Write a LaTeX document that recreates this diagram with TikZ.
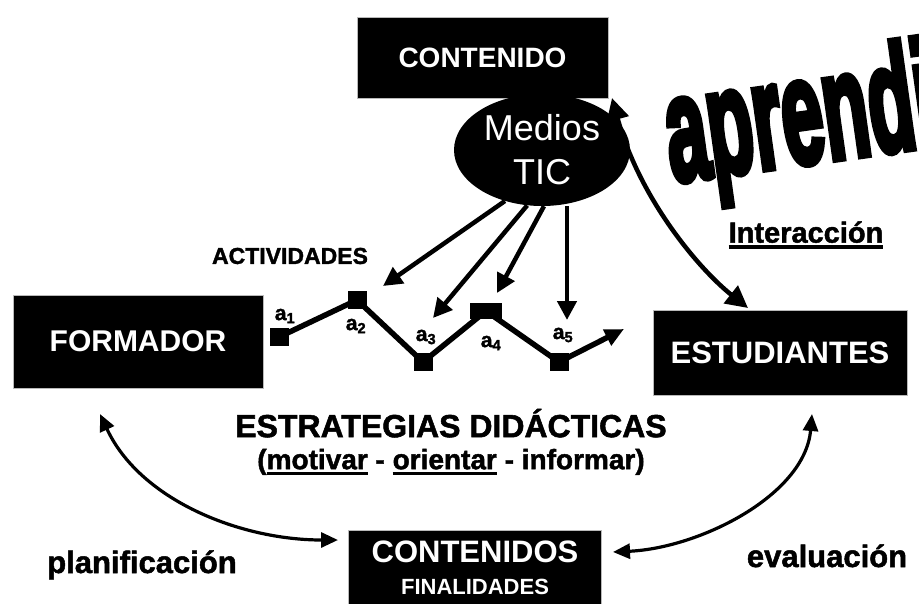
\documentclass[tikz,border=0pt]{standalone}
\usepackage{fontspec}
\setmainfont{Liberation Sans}
\newfontfamily\heavyfont{Liberation Sans Bold}[FakeBold=1.6]
\newfontfamily\wordartfont{Liberation Sans Bold}[FakeBold=5]
\usetikzlibrary{arrows.meta,shapes.geometric}
\newcommand{\thickul}[1]{\setbox0\hbox{#1}\makebox[0pt][l]{\rule[-6pt]{\wd0}{3.5pt}}\box0\relax}
\tikzset{
  darkbox/.style={fill=black, draw=gray!55, line width=0.8pt, text=white,
    font=\bfseries\fontsize{30}{32}\selectfont, inner sep=0pt},
  bigtext/.style={font=\heavyfont\fontsize{32}{36}\selectfont, inner sep=0pt},
  medarrow/.style={line width=4.5pt, -{Triangle[width=19pt,length=19pt]}},
  dblarrow/.style={line width=3.2pt, {Triangle[width=15pt,length=17pt]}-{Triangle[width=15pt,length=17pt]}},
  zig/.style={line width=5.5pt, line join=round},
  actbox/.style={fill=black, minimum width=19pt, minimum height=18pt, inner sep=0pt},
  alabel/.style={font=\heavyfont\fontsize{21}{21}\selectfont, inner sep=0pt}
}
\begin{document}
\begin{tikzpicture}[x=1pt, y=-1pt]
\fill[white] (0,0) rectangle (919,603);
\useasboundingbox (0,0) rectangle (919,603);

% wordart
\node[anchor=base west, rotate=8, xscale=0.5, inner sep=0pt,
      font=\wordartfont\fontsize{150}{150}\selectfont] (apr) at (672,182) {aprendizaje};

% boxes
\node[darkbox, font=\bfseries\fontsize{28}{30}\selectfont, minimum width=251pt, minimum height=81pt] (cont) at (482.5,57.5) {CONTENIDO};
\node[darkbox, minimum width=250pt, minimum height=93pt] (form) at (138,341.5) {FORMADOR};
\node[darkbox, font=\bfseries\fontsize{31}{33}\selectfont, minimum width=254pt, minimum height=85pt] (est) at (780,352.5) {ESTUDIANTES};
\node[darkbox, font=\bfseries\fontsize{31}{33}\selectfont, minimum width=253pt, minimum height=76pt, align=center] (conts) at (475,568)
  {CONTENIDOS\\[-1pt]{\fontsize{22}{24}\selectfont FINALIDADES}};

% Medios TIC
\node[ellipse, fill=black, minimum width=176pt, minimum height=112pt, inner sep=0pt,
      text=white, align=center, font=\fontsize{36}{44}\selectfont] (tic) at (542,150) {Medios\\TIC};

% Interaction arrow between CONTENIDO and ESTUDIANTES
\coordinate (iTop) at (612,98);
\coordinate (iBot) at (748,308);
\draw[line width=4.5pt, {Triangle[width=22pt,length=22pt]}-{Triangle[width=22pt,length=22pt]}]
  (iTop) .. controls (640,200) and (700,270) .. (iBot);

% activities
\node[bigtext, font=\heavyfont\fontsize{23}{23}\selectfont] (actlbl) at (290,256) {ACTIVIDADES};
\node[actbox] (a1) at (279,337) {};
\node[actbox] (a2) at (357,300) {};
\node[actbox] (a3) at (423,362) {};
\node[actbox, minimum width=32pt, minimum height=16pt] (a4) at (486,311) {};
\node[actbox] (a5) at (559,362) {};
\coordinate (zend) at (624,329);
\draw[zig] (a1.center) -- (a2.center) -- (a3.center) -- (a4.center) -- (a5.center);
\draw[zig, -{Triangle[width=17pt,length=19pt]}] (a5.center) -- (zend);

\node[alabel] (l1) at (285,316) {a\textsubscript{1}};
\node[alabel] (l2) at (356,326) {a\textsubscript{2}};
\node[alabel] (l3) at (426,337) {a\textsubscript{3}};
\node[alabel] (l4) at (491,343) {a\textsubscript{4}};
\node[alabel] (l5) at (563,335) {a\textsubscript{5}};

% arrows from Medios TIC
\coordinate (t1) at (383,286);
\coordinate (t2) at (433,318);
\coordinate (t3) at (497,293);
\coordinate (t4) at (567,320);
\draw[medarrow] (tic.234) -- (t1);
\draw[medarrow] (tic.255) -- (t2);
\draw[medarrow] (tic.272) -- (t3);
\draw[medarrow] (tic.south -| t4) -- (t4);

% Interaccion
\node[bigtext, font=\heavyfont\fontsize{29}{29}\selectfont] (inter) at (806,235) {\thickul{Interacción}};

% strategies
\node[bigtext, align=center, font=\heavyfont\fontsize{32}{36}\selectfont] (estr) at (451,442)
  {ESTRATEGIAS DIDÁCTICAS\\[-4pt]{\fontsize{28}{34}\selectfont(\thickul{motivar} - \thickul{orientar} - informar)}};

% bottom labels
\node[bigtext, anchor=base, font=\heavyfont\fontsize{31}{31}\selectfont] (plan) at (142,573) {planificación};
\node[bigtext, anchor=base, font=\heavyfont\fontsize{31}{31}\selectfont] (eval) at (827,567) {evaluación};

% bottom double arrows
\coordinate (lTop) at (100,414);
\coordinate (lEnd) at (338,540);
\coordinate (rTop) at (812,414);
\coordinate (rEnd) at (613,552);
\draw[dblarrow] (lTop) .. controls (140,500) and (240,540) .. (lEnd);
\draw[dblarrow] (rTop) .. controls (805,495) and (700,548) .. (rEnd);
\end{tikzpicture}
\end{document}
